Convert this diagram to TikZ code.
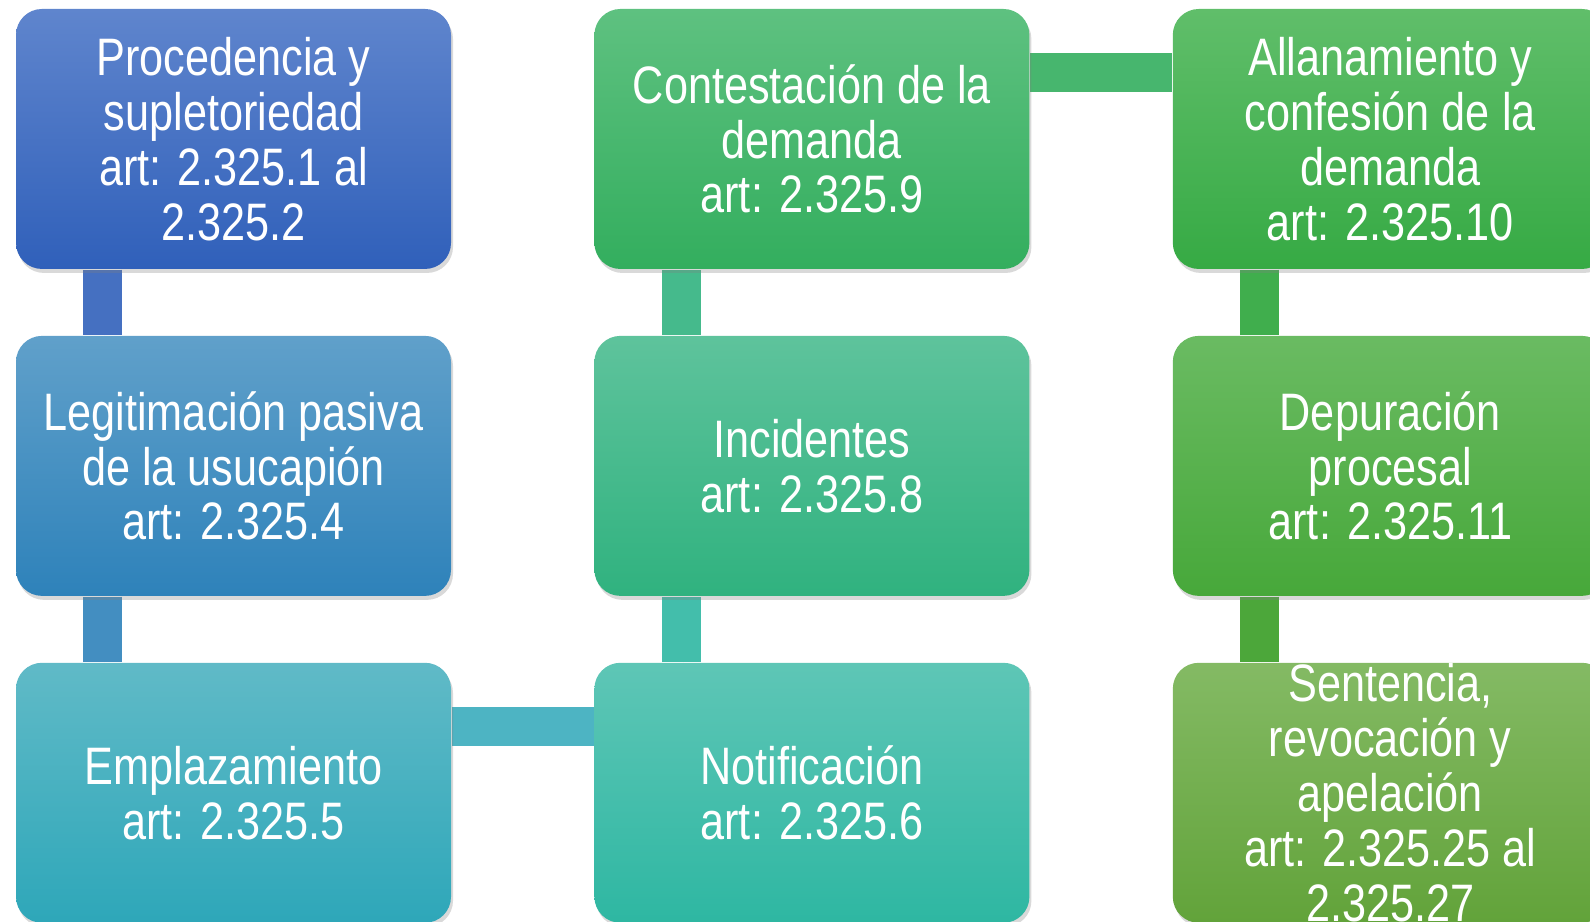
\documentclass[tikz,border=0pt]{standalone}
\usepackage{fontspec}
\setmainfont{Liberation Sans}[FakeStretch=0.82]
\usetikzlibrary{positioning,backgrounds,shadows}

\definecolor{procA}{HTML}{5F85CD}
\definecolor{procB}{HTML}{3060BA}
\definecolor{legitA}{HTML}{60A0CA}
\definecolor{legitB}{HTML}{2E82BA}
\definecolor{emplA}{HTML}{60BAC7}
\definecolor{emplB}{HTML}{2EA7B9}
\definecolor{notifA}{HTML}{5EC6B6}
\definecolor{notifB}{HTML}{2EB7A2}
\definecolor{incidA}{HTML}{5EC39C}
\definecolor{incidB}{HTML}{30B27F}
\definecolor{contA}{HTML}{5EC180}
\definecolor{contB}{HTML}{33AE5E}
\definecolor{allanA}{HTML}{60BE6A}
\definecolor{allanB}{HTML}{36AA44}
\definecolor{depurA}{HTML}{6ABB62}
\definecolor{depurB}{HTML}{47A83A}
\definecolor{sentA}{HTML}{84BA64}
\definecolor{sentB}{HTML}{62A33A}

\begin{document}
\begin{tikzpicture}[
    paso/.style={rectangle, rounded corners=0.26cm, minimum width=4.35cm,
        minimum height=2.6cm, inner sep=0pt, align=center, text=white,
        font=\fontsize{15pt}{15.6pt}\selectfont,
        drop shadow={shadow xshift=0.02cm, shadow yshift=-0.04cm, opacity=0.3}},
    enlace/.style={line width=0.39cm,
        drop shadow={shadow xshift=0.02cm, shadow yshift=-0.03cm, opacity=0.2}},
    node distance=0.655cm and 1.42cm]
    \clip (0,0) rectangle (15.9,9.22);
    % primera columna
    \node[paso, top color=procA, bottom color=procB] (Proc) at (2.335,7.83)
        {Procedencia y\\supletoriedad\\art: 2.325.1 al\\2.325.2};
    \node[paso, top color=legitA, bottom color=legitB, below=of Proc] (Legit)
        {Legitimación pasiva\\de la usucapión\\art: 2.325.4};
    \node[paso, top color=emplA, bottom color=emplB, below=of Legit] (Empl)
        {Emplazamiento\\art: 2.325.5};
    % segunda columna
    \node[paso, top color=notifA, bottom color=notifB, right=of Empl] (Notif)
        {Notificación\\art: 2.325.6};
    \node[paso, top color=incidA, bottom color=incidB, above=of Notif] (Incid)
        {Incidentes\\art: 2.325.8};
    \node[paso, top color=contA, bottom color=contB, above=of Incid] (Cont)
        {Contestación de la\\demanda\\art: 2.325.9};
    % tercera columna
    \node[paso, top color=allanA, bottom color=allanB, right=of Cont] (Allan)
        {Allanamiento y\\confesión de la\\demanda\\art: 2.325.10};
    \node[paso, top color=depurA, bottom color=depurB, below=of Allan] (Depur)
        {Depuración\\procesal\\art: 2.325.11};
    \node[paso, top color=sentA, bottom color=sentB, below=of Depur] (Sent)
        {Sentencia,\\revocación y\\apelación\\art: 2.325.25 al\\2.325.27};
    \begin{pgfonlayer}{background}
    \draw[enlace, color=procB!90!white] ([xshift=0.875cm]Proc.south west) -- ([xshift=0.875cm]Legit.north west);
    \draw[enlace, color=legitB!90!white] ([xshift=0.875cm]Legit.south west) -- ([xshift=0.875cm]Empl.north west);
    \draw[enlace, color=emplB!85!white] ([yshift=-0.64cm]Empl.north east) -- ([yshift=-0.64cm]Notif.north west);
    \draw[enlace, color=notifB!90!white] ([xshift=0.875cm]Notif.north west) -- ([xshift=0.875cm]Incid.south west);
    \draw[enlace, color=incidB!90!white] ([xshift=0.875cm]Incid.north west) -- ([xshift=0.875cm]Cont.south west);
    \draw[enlace, color=contB!90!white] ([yshift=-0.64cm]Cont.north east) -- ([yshift=-0.64cm]Allan.north west);
    \draw[enlace, color=allanB!95!white] ([xshift=0.875cm]Allan.south west) -- ([xshift=0.875cm]Depur.north west);
    \draw[enlace, color=depurB!80!sentB] ([xshift=0.875cm]Depur.south west) -- ([xshift=0.875cm]Sent.north west);
    \end{pgfonlayer}
\end{tikzpicture}
\end{document}
